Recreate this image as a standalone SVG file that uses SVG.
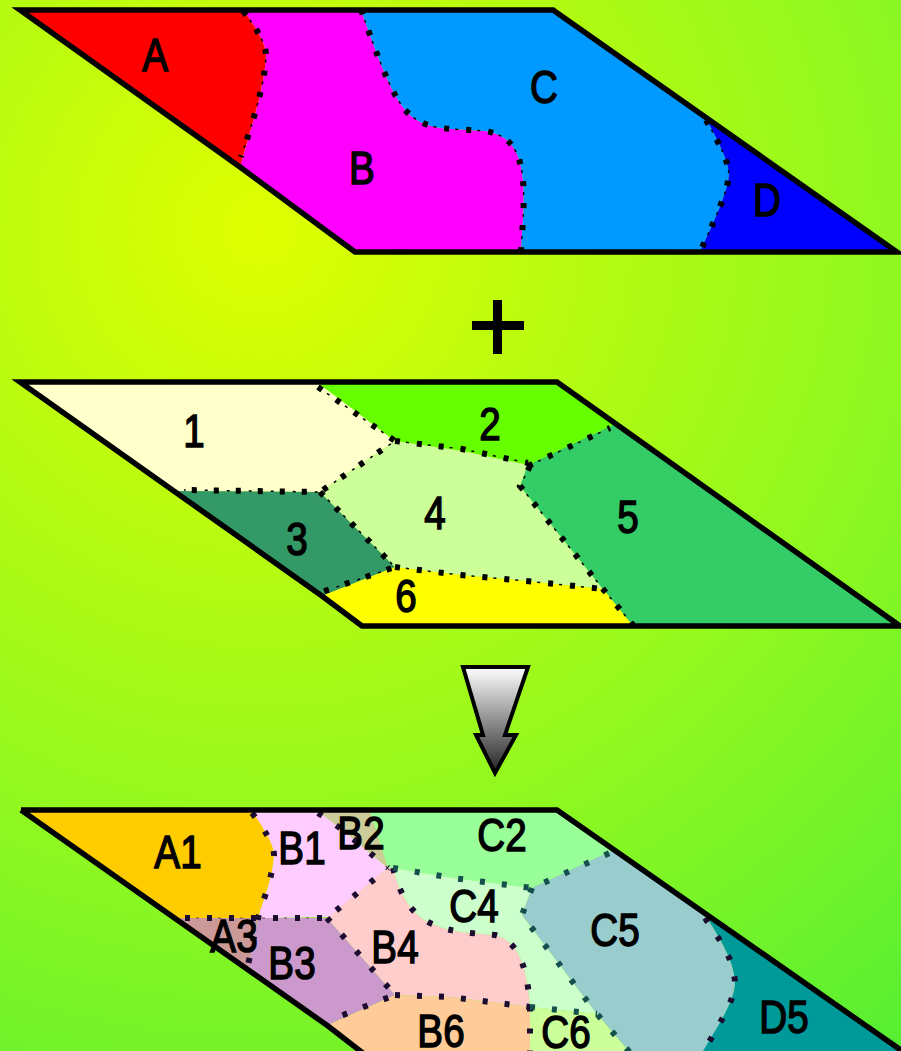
<svg xmlns="http://www.w3.org/2000/svg" width="901" height="1051" viewBox="0 0 901 1051">
<style>
.e{fill:none;stroke:#000;stroke-width:5.5;stroke-linejoin:miter}
.d{fill:none;stroke:#000;stroke-width:6;stroke-dasharray:5 17}
.t{fill:none;stroke:#000;stroke-width:1.5;stroke-dasharray:3 8}
.d3{fill:none;stroke:#1c0c30;stroke-width:6;stroke-dasharray:5 17}
.d4{fill:none;stroke:#14504e;stroke-width:6;stroke-dasharray:5 17}
.t3{fill:none;stroke:#1c0c30;stroke-width:1.2;stroke-dasharray:3 8;opacity:.6}
text{font-family:"Liberation Sans",Arial,sans-serif;fill:#000;stroke:#000;stroke-width:1.5;text-anchor:middle;font-size:46px;transform-box:fill-box;transform-origin:center;transform:scaleX(.84)}
</style>
<defs>
<radialGradient id="bg" gradientUnits="userSpaceOnUse" cx="260" cy="230" r="1050">
<stop offset="0" stop-color="#e0ff00"/>
<stop offset=".3" stop-color="#b8fb10"/>
<stop offset=".6" stop-color="#90f820"/>
<stop offset="1" stop-color="#55ee33"/>
</radialGradient>
<linearGradient id="arrow" x1="0" y1="0" x2="0" y2="1">
<stop offset="0" stop-color="#fff"/>
<stop offset="1" stop-color="#222"/>
</linearGradient>
</defs>
<rect id="background" width="901" height="1051" fill="url(#bg)"/>

<g id="panel-top">
<path id="region-A" fill="#ff0000" d="M20 10H243C258 30 266 45 266 55C265 85 252 125 240 167Z"/>
<path id="region-B" fill="#ff00ff" d="M243 10H361C372 40 385 80 400 103C412 122 430 128 452 129L485 131C510 135 520 150 523 180C525 205 522 230 521 252H355L240 167C252 125 265 85 266 55C266 45 258 30 243 10Z"/>
<path id="region-C" fill="#0099ff" d="M361 10H553L706 118C720 145 728 160 729 175C727 195 712 225 700 252H521C522 230 525 205 523 180C520 150 510 135 485 131L452 129C430 128 412 122 400 103C385 80 372 40 361 10Z"/>
<path id="region-D" fill="#0000ff" d="M706 118L897 252H700C712 225 727 195 729 175C728 160 720 145 706 118Z"/>
</g>
<g id="connectors-top">
<path class="d" d="M243 11C258 30 266 45 266 55C265 85 252 125 241 157"/>
<path class="t" d="M243 11C258 30 266 45 266 55C265 85 252 125 241 157"/>
<path class="d" d="M361 10C372 40 385 80 400 103C412 122 430 128 452 129L485 131C510 135 520 150 523 180C525 205 522 230 521 252"/>
<path class="t" d="M361 10C372 40 385 80 400 103C412 122 430 128 452 129L485 131C510 135 520 150 523 180C525 205 522 230 521 252"/>
<path class="d" d="M706 120C720 145 728 160 729 175C727 195 712 225 700 252"/>
<path class="t" d="M706 120C720 145 728 160 729 175C727 195 712 225 700 252"/>
</g>
<path class="e" d="M20 10H553L897 252H355L240 167Z"/>
<text id="label-A" x="155" y="71">A</text>
<text id="label-B" x="362" y="184">B</text>
<text id="label-C" x="544" y="103">C</text>
<text id="label-D" x="767" y="216">D</text>

<g id="plus"><path d="M472 321H524V330H472ZM493 300H502V354H493Z" fill="#000"/></g>

<g id="panel-middle">
<path id="region-1" fill="#ffffcc" d="M20 382H318L395 441L320 492L176 491Z"/>
<path id="region-2" fill="#66ff00" d="M318 383H557L615 424L528 465L462 451L395 441Z"/>
<path id="region-3" fill="#339966" d="M176 491L320 492L395 567L322 596Z"/>
<path id="region-4" fill="#ccff99" d="M395 441L462 451L528 465L520 486L603 589L526 581L460 575L395 567L320 492Z"/>
<path id="region-5" fill="#33cc66" d="M615 424L900 626H633L603 589L520 486L528 465Z"/>
<path id="region-6" fill="#ffff00" d="M322 596L395 567L460 575L526 581L603 589L633 626H362Z"/>
</g>
<g id="connectors-middle">
<path class="d" d="M318 387L395 441L320 492L184 490M395 441L462 449L528 463M528 466L610 428M530 466L520 486L603 589L633 625M320 492L395 567L322 592M395 567L460 575L526 581L603 589"/>
<path class="t" d="M318 387L395 441L320 492L184 490M395 441L462 449L528 463M528 466L610 428M530 466L520 486L603 589L633 625M320 492L395 567L322 592M395 567L460 575L526 581L603 589"/>
</g>
<path class="e" d="M20 382H557L900 626H362L322 596Z"/>
<text id="label-1" x="194" y="447">1</text>
<text id="label-2" x="490" y="440">2</text>
<text id="label-3" x="297" y="555">3</text>
<text id="label-4" x="435" y="529">4</text>
<text id="label-5" x="628" y="533">5</text>
<text id="label-6" x="406" y="612">6</text>

<g id="arrow-down">
<path d="M463 667H528L505 735H516L495 773L476 735H483Z" fill="url(#arrow)" stroke="#000" stroke-width="4" stroke-linejoin="miter"/>
</g>

<g id="panel-bottom">
<path id="region-A1" fill="#ffcc00" d="M21 810H252C265 830 274 845 274 855C273 875 265 895 258 918H177Z"/>
<path id="region-B1" fill="#ffccff" d="M252 811H318L340 828L388 868L330 917L258 918C265 895 273 875 274 855C274 845 265 830 252 811Z"/>
<path id="region-B2" fill="#cccc99" d="M318 811H370L388 868L340 828Z"/>
<path id="region-C2" fill="#99ff99" d="M370 811H557L613 850L532 888L453 878L393 868L388 868Z"/>
<path id="region-A3" fill="#cc9999" d="M177 918H258L248 969Z"/>
<path id="region-B3" fill="#cc99cc" d="M258 918L327 918L395 995L328 1025L248 969Z"/>
<path id="region-B4" fill="#ffcccc" d="M327 918L388 868L393 868C400 895 412 917 435 925C450 932 470 933 495 935C515 940 527 960 530 1007L450 997L395 995Z"/>
<path id="region-B6" fill="#ffcc99" d="M328 1025L395 995L450 997L530 1007V1055H362Z"/>
<path id="region-C4" fill="#ccffcc" d="M393 868L453 878L532 888L522 915L597 1014L530 1007C527 960 515 940 495 935C470 933 450 932 435 925C412 917 400 895 393 868Z"/>
<path id="region-C5" fill="#99cccc" d="M613 850L705 914C720 940 735 960 735 985C733 1005 715 1030 702 1055H632L597 1014L522 915L532 888Z"/>
<path id="region-C6" fill="#ccff99" d="M530 1007L597 1014L632 1055H530Z"/>
<path id="region-D5" fill="#009999" d="M705 914L905 1053H702C715 1030 733 1005 735 985C735 960 720 940 705 914Z"/>
</g>
<g id="connectors-bottom">
<path class="d3" d="M252 813C265 830 274 845 274 855C273 875 265 895 258 918L248 965"/>
<path class="d3" d="M185 918H327L388 868M327 918L395 995L330 1020M395 995L450 997L530 1007"/>
<path class="d3" d="M318 813L340 828L388 868"/>
<path class="d3" d="M393 868C400 895 412 917 435 925C450 932 470 933 495 935C515 940 527 960 530 1007V1051"/>
<path class="d4" d="M393 868L453 878L532 888L612 852M532 888L522 915L597 1014L632 1055M530 1007L597 1014"/>
<path class="d3" d="M705 918C720 940 735 960 735 985C733 1005 715 1030 702 1055"/>
<path class="t3" d="M185 918H327"/>
</g>
<path class="e" d="M21 810H557L905 1053M21 810L328 1026L368 1057"/>
<text id="label-A1" x="178" y="868">A1</text>
<text id="label-B1" x="302" y="864">B1</text>
<text id="label-B2" x="361" y="849">B2</text>
<text id="label-C2" x="502" y="851">C2</text>
<text id="label-C4" x="474" y="922">C4</text>
<text id="label-A3" x="234" y="952">A3</text>
<text id="label-B3" x="292" y="979">B3</text>
<text id="label-B4" x="395" y="963">B4</text>
<text id="label-C5" x="615" y="946">C5</text>
<text id="label-B6" x="441" y="1047">B6</text>
<text id="label-C6" x="566" y="1048">C6</text>
<text id="label-D5" x="784" y="1033">D5</text>
</svg>
